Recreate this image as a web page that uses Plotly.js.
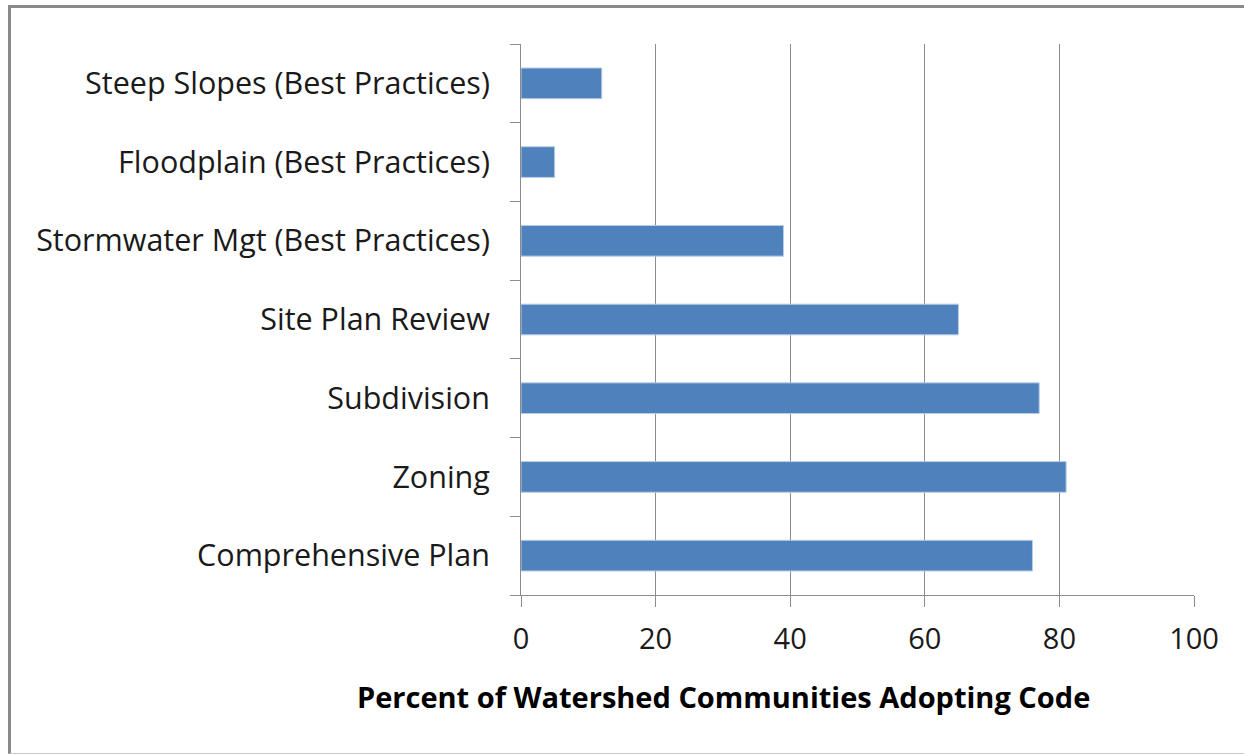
<!DOCTYPE html>
<html>
<head>
<meta charset="utf-8">
<script src="https://cdn.plot.ly/plotly-3.0.1.min.js"></script>
<style>
  html, body { margin: 0; padding: 0; background: #fff; }
  #wrap { position: relative; width: 1244px; height: 754px; }
  #chart { position: absolute; left: 0; top: 0; width: 1244px; height: 754px; }
  #frame { position: absolute; left: 8px; top: 5px; width: 1240px; height: 745px;
           border-top: 3px solid #8a8a8a; border-left: 3px solid #8a8a8a;
           border-bottom: 1px solid #c8c8c8; pointer-events: none; }
</style>
</head>
<body>
<div id="wrap">
  <div id="chart"></div>
  <div id="frame"></div>
</div>
<script>
const categories = [
  "Comprehensive Plan",
  "Zoning",
  "Subdivision",
  "Site Plan Review",
  "Stormwater Mgt (Best Practices)",
  "Floodplain (Best Practices)",
  "Steep Slopes (Best Practices)"
];
const percentAdopting = [76, 81, 77, 65, 39, 5, 12];
const xTickValues = [0, 20, 40, 60, 80, 100];
const xAxisTitle = "Percent of Watershed Communities Adopting Code";

const trace = {
  type: "bar",
  orientation: "h",
  y: categories,
  x: percentAdopting,
  width: 0.39,
  marker: { color: "#4F81BD", line: { color: "#B9CDE5", width: 1 } },
  hoverinfo: "x+y"
};

const layout = {
  width: 1244,
  height: 754,
  margin: { l: 521, r: 50, t: 44, b: 159 },
  paper_bgcolor: "#ffffff",
  plot_bgcolor: "#ffffff",
  showlegend: false,
  font: { family: "'Open Sans', Lato, sans-serif", color: "#1a1a1a", size: 28 },
  xaxis: {
    range: [0, 100],
    tickvals: xTickValues,
    ticktext: xTickValues.map(String),
    showgrid: true,
    gridcolor: "#8c8c8c",
    gridwidth: 1,
    zeroline: false,
    showline: true,
    linecolor: "#8c8c8c",
    linewidth: 1,
    ticks: "outside",
    ticklen: 11,
    tickcolor: "#8c8c8c",
    tickfont: { size: 29, color: "#1a1a1a" },
    ticklabelstandoff: 7,
    fixedrange: true
  },
  yaxis: {
    type: "category",
    showgrid: false,
    zeroline: false,
    showline: true,
    linecolor: "#8c8c8c",
    linewidth: 1,
    ticks: "outside",
    tickson: "boundaries",
    ticklen: 10,
    tickcolor: "#8c8c8c",
    tickfont: { size: 30.5, color: "#1a1a1a" },
    ticklabelstandoff: 24,
    fixedrange: true
  },
  annotations: [{
    text: xAxisTitle,
    xref: "paper", yref: "paper",
    x: 0.3016, y: -0.185,
    xanchor: "center", yanchor: "middle",
    showarrow: false,
    font: { size: 29, color: "#000000", weight: "bold" }
  }]
};

Plotly.newPlot("chart", [trace], layout, { displayModeBar: false, staticPlot: true });
</script>
</body>
</html>
